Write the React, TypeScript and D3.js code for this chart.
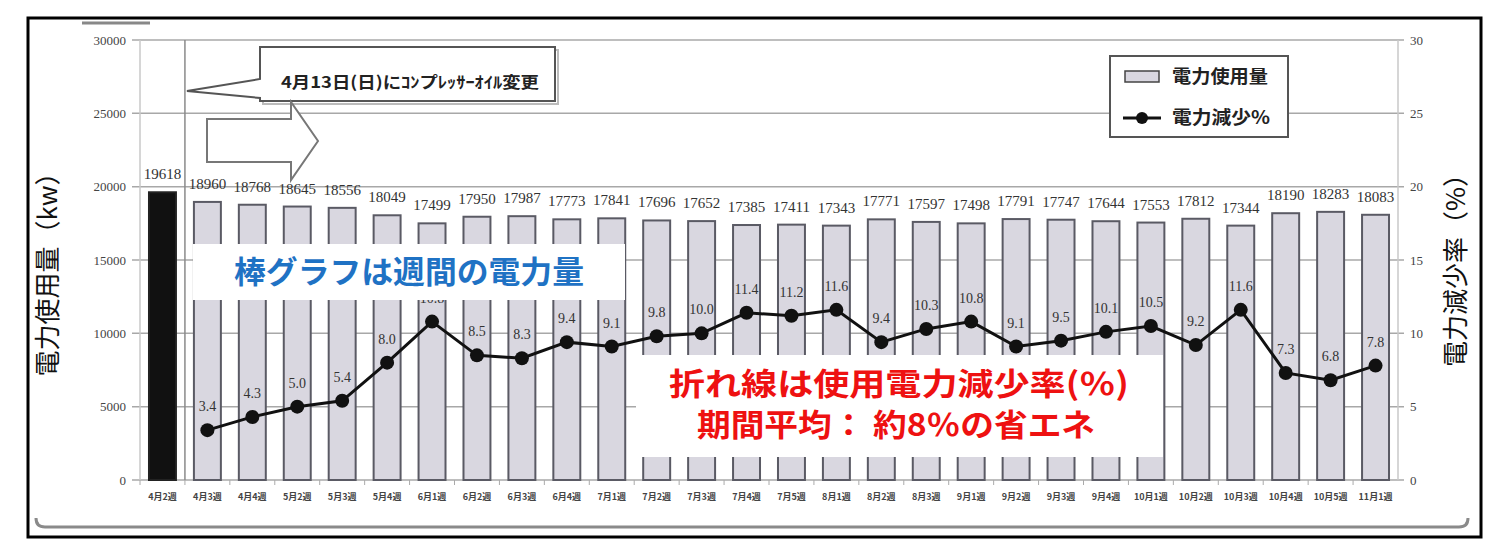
import React from 'react';
import * as d3 from 'd3';

// 週ごとの電力使用量 (kw) と 減少率 (%)
const weeks = [
  '4月2週', '4月3週', '4月4週', '5月2週', '5月3週', '5月4週', '6月1週',
  '6月2週', '6月3週', '6月4週', '7月1週', '7月2週', '7月3週', '7月4週',
  '7月5週', '8月1週', '8月2週', '8月3週', '9月1週', '9月2週', '9月3週',
  '9月4週', '10月1週', '10月2週', '10月3週', '10月4週', '10月5週', '11月1週',
];
const usage = [
  19618, 18960, 18768, 18645, 18556, 18049, 17499, 17950, 17987, 17773,
  17841, 17696, 17652, 17385, 17411, 17343, 17771, 17597, 17498, 17791,
  17747, 17644, 17553, 17812, 17344, 18190, 18283, 18083,
];
const reduction: (number | null)[] = [
  null, 3.4, 4.3, 5.0, 5.4, 8.0, 10.8, 8.5, 8.3, 9.4, 9.1, 9.8, 10.0, 11.4,
  11.2, 11.6, 9.4, 10.3, 10.8, 9.1, 9.5, 10.1, 10.5, 9.2, 11.6, 7.3, 6.8, 7.8,
];
const usageTicks = [0, 5000, 10000, 15000, 20000, 25000, 30000];
const rateTicks = [0, 5, 10, 15, 20, 25, 30];

const W = 1507;
const H = 560;
const jp = "'Noto Sans CJK JP', 'Noto Sans', sans-serif";
const num = "'Liberation Serif', 'DejaVu Serif', serif";

export default function App() {
  const x = d3.scaleBand<string>()
    .domain(weeks)
    .range([140, 1398])
    .paddingInner(0.4)
    .paddingOuter(0.2);
  const y = d3.scaleLinear().domain([0, 30000]).range([480, 40]);
  const y2 = d3.scaleLinear().domain([0, 30]).range([480, 40]);
  const bw = x.bandwidth();
  const cx = (w: string) => (x(w) ?? 0) + bw / 2;

  const pts = weeks.map((w, i) => ({ w, v: reduction[i] }));
  const line = d3.line<{ w: string; v: number | null }>()
    .defined(d => d.v != null)
    .x(d => cx(d.w))
    .y(d => y2(d.v as number));

  // 4月13日の区切り線 (4月2週と4月3週の間)
  const divX = (x(weeks[1]) ?? 0) - (x.step() * x.paddingInner()) / 2;

  return (
    <svg width={W} height={H} style={{ position: 'absolute', left: 0, top: 0, background: '#fff' }}>
      {/* 外枠 */}
      <rect x={28} y={18} width={1453} height={519} fill="#fff" stroke="#000" strokeWidth={3} />
      <line x1={82} x2={150} y1={23} y2={23} stroke="#888" strokeWidth={3} />
      <path d="M36,518 Q36,527 45,527 L1459,527 Q1468,527 1468,518" fill="none" stroke="#8a8a8a" strokeWidth={3} />

      {/* グリッド */}
      {usageTicks.map(t => (
        <line key={t} x1={132} x2={1404} y1={y(t)} y2={y(t)} stroke="#a8a8a8" strokeWidth={1.5} />
      ))}
      <line x1={140} x2={140} y1={40} y2={480} stroke="#c8c8c8" strokeWidth={1.5} />
      <line x1={1398} x2={1398} y1={40} y2={480} stroke="#c8c8c8" strokeWidth={1.5} />
      <line x1={divX} x2={divX} y1={40} y2={480} stroke="#8a8a8a" strokeWidth={1.5} />

      {/* 左軸 */}
      {usageTicks.map(t => (
        <text key={t} x={126} y={y(t)} dy="0.35em" textAnchor="end" fontFamily={num} fontSize={13} fill="#444">{t}</text>
      ))}
      {/* 右軸 */}
      {rateTicks.map(t => (
        <text key={t} x={1410} y={y2(t)} dy="0.35em" textAnchor="start" fontFamily={num} fontSize={13} fill="#444">{t}</text>
      ))}

      {/* x軸ラベルと目盛 */}
      {weeks.map((w, i) => (
        <g key={w + i}>
          <line x1={(x(w) ?? 0) - x.step() * 0.2} x2={(x(w) ?? 0) - x.step() * 0.2} y1={480} y2={485} stroke="#aaa" />
          <text x={cx(w)} y={500} textAnchor="middle" fontFamily={jp} fontSize={9} fontWeight={700} fill="#444">{w}</text>
        </g>
      ))}

      {/* 棒 */}
      {weeks.map((w, i) => (
        <rect key={w} x={x(w)} y={y(usage[i])} width={bw} height={480 - y(usage[i])}
          fill={i === 0 ? '#111' : '#d9d7e0'} stroke={i === 0 ? '#222' : '#5a5a64'} strokeWidth={2} />
      ))}
      {weeks.map((w, i) => (
        <text key={w} x={cx(w)} y={y(usage[i]) - 13} textAnchor="middle" fontFamily={num} fontSize={15} fill="#333">{usage[i]}</text>
      ))}

      {/* 折れ線 */}
      <path d={line(pts) ?? ''} fill="none" stroke="#111" strokeWidth={3} />
      {pts.filter(d => d.v != null).map(d => (
        <g key={d.w}>
          <circle cx={cx(d.w)} cy={y2(d.v as number)} r={7} fill="#111" />
          <text x={cx(d.w)} y={y2(d.v as number) - 19} textAnchor="middle" fontFamily={num} fontSize={14} fill="#333">
            {(d.v as number).toFixed(1)}
          </text>
        </g>
      ))}

      {/* 吹き出し */}
      <rect x={263} y={50} width={295} height={54} fill="none" stroke="#bbb" strokeWidth={2} />
      <path d={`M260,79 L260,47 L555,47 L555,101 L260,101 L260,98 L${divX + 2},91 Z`} fill="#fff" stroke="#555" strokeWidth={2} />
      <text x={410} y={82} dy="0.35em" textAnchor="middle" fontFamily={jp} fontSize={16} fontWeight={700} fill="#222"
        textLength={258} lengthAdjust="spacingAndGlyphs">4月13日(日)にｺﾝプﾚｯｻｰｵｲﾙ変更</text>
      <path d="M207,119 L291,119 L291,102 L318,141 L291,180 L291,162 L207,162 Z" fill="#fff" stroke="#777" strokeWidth={2} />

      {/* 凡例 */}
      <rect x={1110} y={56} width={178} height={81} fill="#fff" stroke="#555" strokeWidth={2} />
      <rect x={1125} y={71} width={34} height={11} fill="#d9d7e0" stroke="#444" strokeWidth={1.5} />
      <text x={1172} y={77} dy="0.35em" fontFamily={jp} fontSize={18} fontWeight={700} fill="#222"
        textLength={96} lengthAdjust="spacingAndGlyphs">電力使用量</text>
      <line x1={1123} x2={1161} y1={118} y2={118} stroke="#111" strokeWidth={3} />
      <circle cx={1142} cy={118} r={6} fill="#111" />
      <text x={1172} y={118} dy="0.35em" fontFamily={jp} fontSize={18} fontWeight={700} fill="#222"
        textLength={98} lengthAdjust="spacingAndGlyphs">電力減少%</text>

      {/* 説明ボックス */}
      <rect x={193} y={244} width={432} height={56} fill="#fff" />
      <text x={409} y={272} dy="0.35em" textAnchor="middle" fontFamily={jp} fontSize={31} fontWeight={700} fill="#1f72c4"
        textLength={350} lengthAdjust="spacingAndGlyphs">棒グラフは週間の電力量</text>
      <rect x={636} y={355} width={527} height={102} fill="#fff" />
      <text x={899} y={384} dy="0.35em" textAnchor="middle" fontFamily={jp} fontSize={31} fontWeight={700} fill="#ee1111"
        textLength={460} lengthAdjust="spacingAndGlyphs">折れ線は使用電力減少率(％)</text>
      <text x={896} y={425} dy="0.35em" textAnchor="middle" fontFamily={jp} fontSize={31} fontWeight={700} fill="#ee1111"
        textLength={398} lengthAdjust="spacingAndGlyphs">期間平均： 約8％の省エネ</text>

      {/* 軸タイトル */}
      <text transform="translate(48,268) rotate(-90)" dy="0.35em" textAnchor="middle" fontFamily={jp} fontSize={26} fill="#111">電力使用量（kw）</text>
      <text transform="translate(1456,264) rotate(-90)" dy="0.35em" textAnchor="middle" fontFamily={jp} fontSize={26} fill="#111">電力減少率（%）</text>
    </svg>
  );
}
